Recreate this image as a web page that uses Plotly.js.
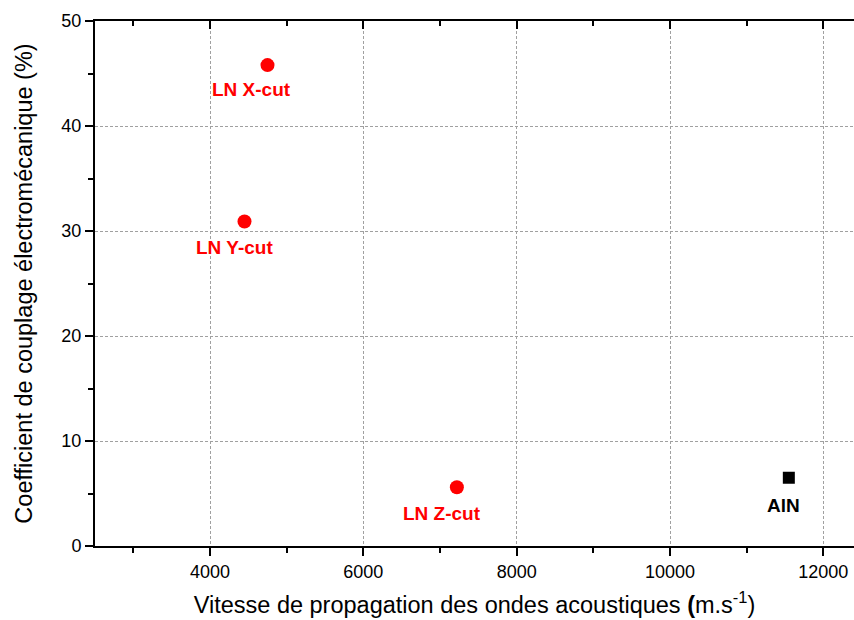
<!DOCTYPE html>
<html>
<head>
<meta charset="utf-8">
<script src="https://cdn.plot.ly/plotly-3.0.1.min.js"></script>
<style>html,body{margin:0;padding:0;background:#fff;}#chart{width:854px;height:620px;}</style>
</head>
<body>
<div id="chart"></div>
<script>
const lnLabels = ['LN X-cut', 'LN Y-cut', 'LN Z-cut'];
const lnVelocity = [4750, 4450, 7220];
const lnCoupling = [45.8, 30.9, 5.6];
const alnLabels = ['AlN'];
const alnVelocity = [11550];
const alnCoupling = [6.5];

const FONT = 'Arial, "Liberation Sans", sans-serif';

const traces = [
  {x: lnVelocity, y: lnCoupling, mode: 'markers', type: 'scatter',
   marker: {color: '#ff0000', size: 14, symbol: 'circle'}, hoverinfo: 'x+y'},
  {x: alnVelocity, y: alnCoupling, mode: 'markers', type: 'scatter',
   marker: {color: '#000000', size: 12, symbol: 'square'}, hoverinfo: 'x+y'},
  {x: lnVelocity, y: lnCoupling, xaxis: 'x2', mode: 'markers', type: 'scatter',
   marker: {opacity: 0}, hoverinfo: 'skip', showlegend: false}
];

const labelShifts = [[-16, -24], [-10, -26], [-15, -26]];
const annotations = lnLabels.map((t, i) => ({
  x: lnVelocity[i], y: lnCoupling[i], text: '<b>' + t + '</b>', showarrow: false,
  xshift: labelShifts[i][0], yshift: labelShifts[i][1],
  font: {family: FONT, size: 19, color: '#ff0000'}
})).concat(alnLabels.map((t, i) => ({
  x: alnVelocity[i], y: alnCoupling[i], text: '<b>' + t + '</b>', showarrow: false,
  xshift: -5, yshift: -28,
  font: {family: FONT, size: 19, color: '#000000'}
})));

const grid = {showgrid: true, gridcolor: '#a0a0a0', gridwidth: 1, griddash: '3px,2px'};

const layout = {
  width: 854, height: 620,
  margin: {l: 95, r: 0, t: 21, b: 74},
  paper_bgcolor: '#fff', plot_bgcolor: '#fff',
  showlegend: false,
  font: {family: FONT, size: 18, color: '#000'},
  xaxis: Object.assign({
    range: [2500, 12400], tickvals: [4000, 6000, 8000, 10000, 12000],
    ticktext: ['4000', '6000', '8000', '10000', '12000'],
    ticks: 'outside', ticklen: 8, tickwidth: 2, tickcolor: '#000',
    showline: true, linecolor: '#000', linewidth: 2, zeroline: false,
    tickfont: {family: FONT, size: 18, color: '#000'},
    minor: {tickvals: [3000, 5000, 7000, 9000, 11000], ticks: 'outside', ticklen: 5, tickwidth: 2, tickcolor: '#000', showgrid: false},
    title: {text: 'Vitesse de propagation des ondes acoustiques <b>(</b>m.s<sup>-1</sup>)', font: {family: FONT, size: 23.5, color: '#000'}, standoff: 16}
  }, grid),
  xaxis2: {
    overlaying: 'x', side: 'top', range: [2500, 12400],
    tickvals: [4000, 6000, 8000, 10000, 12000], showticklabels: false,
    ticks: 'inside', ticklen: 8, tickwidth: 2, tickcolor: '#000',
    showline: true, linecolor: '#000', linewidth: 2, showgrid: false, zeroline: false,
    minor: {tickvals: [3000, 5000, 7000, 9000, 11000], ticks: 'inside', ticklen: 5, tickwidth: 2, tickcolor: '#000', showgrid: false}
  },
  yaxis: Object.assign({
    range: [0, 50], tickvals: [0, 10, 20, 30, 40, 50],
    ticks: 'outside', ticklen: 8, tickwidth: 2, tickcolor: '#000',
    showline: true, linecolor: '#000', linewidth: 2, zeroline: false,
    tickfont: {family: FONT, size: 18, color: '#000'},
    minor: {tickvals: [5, 15, 25, 35, 45], ticks: 'outside', ticklen: 5, tickwidth: 2, tickcolor: '#000', showgrid: false},
    title: {text: 'Coefficient de couplage électromécanique (%)', font: {family: FONT, size: 23.5, color: '#000'}, standoff: 22}
  }, grid),
  annotations: annotations
};

Plotly.newPlot('chart', traces, layout, {displayModeBar: false, staticPlot: true});
</script>
</body>
</html>
